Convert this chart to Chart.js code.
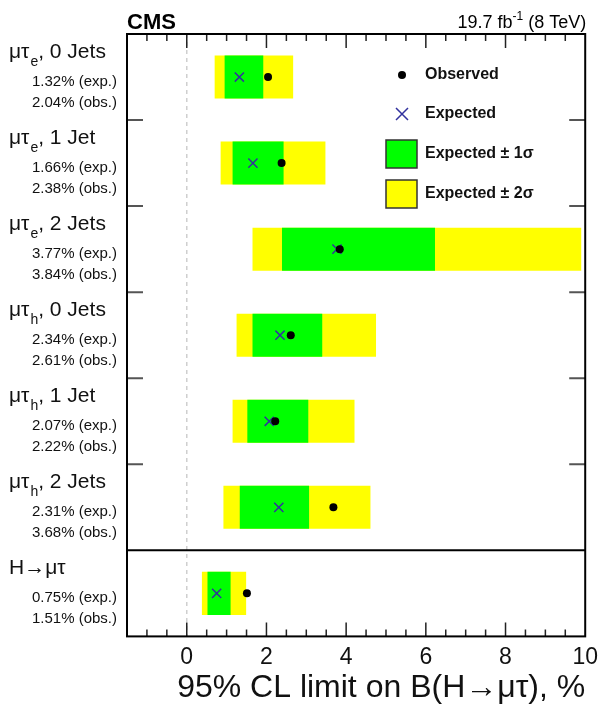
<!DOCTYPE html>
<html>
<head>
<meta charset="utf-8">
<script src="https://cdn.jsdelivr.net/npm/chart.js@4.4.1/dist/chart.umd.min.js"></script>
<style>
  html, body { margin: 0; padding: 0; background: #fff; }
  #wrap { width: 605px; height: 705px; }
</style>
</head>
<body>
<div id="wrap"><canvas id="limits" width="605" height="705"></canvas></div>
<script>
// Channel labels: main symbol, subscript, suffix
const chanMain = ['μτ', 'μτ', 'μτ', 'μτ', 'μτ', 'μτ', 'H→μτ'];
const chanSub = ['e', 'e', 'e', 'h', 'h', 'h', ''];
const chanTail = [', 0 Jets', ', 1 Jet', ', 2 Jets', ', 0 Jets', ', 1 Jet', ', 2 Jets', ''];

// 95% CL upper limits on B(H->mu tau), in %
const expected = [1.32, 1.66, 3.77, 2.34, 2.07, 2.31, 0.75];
const observed = [2.04, 2.38, 3.84, 2.61, 2.22, 3.68, 1.51];
const sigma1Lo = [0.95, 1.15, 2.39, 1.65, 1.52, 1.33, 0.52];
const sigma1Hi = [1.92, 2.43, 6.23, 3.40, 3.05, 3.07, 1.10];
const sigma2Lo = [0.70, 0.85, 1.65, 1.25, 1.15, 0.92, 0.38];
const sigma2Hi = [2.67, 3.48, 9.90, 4.75, 4.21, 4.61, 1.49];

const xMin = -1.5, xMax = 10;
const FONT = "'Liberation Sans', Arial, sans-serif";
const EXP_COLOR = '#32329e';
const rows = expected.map((_, i) => i);

// frame, inward ticks, row labels, legend, CMS header
const decorations = {
    id: 'decorations',
    beforeDatasetsDraw(chart) {
        const { ctx, chartArea: a, scales: { x } } = chart;
        const x0 = x.getPixelForValue(0);
        ctx.save();
        ctx.strokeStyle = '#cfcfcf';
        ctx.lineWidth = 1.5;
        ctx.setLineDash([4, 4]);
        ctx.beginPath();
        ctx.moveTo(x0, a.top);
        ctx.lineTo(x0, a.bottom);
        ctx.stroke();
        ctx.restore();
    },
    afterDatasetsDraw(chart) {
        const { ctx, chartArea: a, scales: { x, y } } = chart;
        ctx.save();

        // x ticks top and bottom, pointing inward
        ctx.strokeStyle = '#222';
        ctx.lineWidth = 1.5;
        x.ticks.forEach(t => {
            const v = t.value;
            if (v <= xMin || v >= xMax) return;
            const px = x.getPixelForValue(v);
            const len = (v % 2 === 0) ? 14 : 7;
            ctx.beginPath();
            ctx.moveTo(px, a.top); ctx.lineTo(px, a.top + len);
            ctx.moveTo(px, a.bottom); ctx.lineTo(px, a.bottom - len);
            ctx.stroke();
        });

        // row boundary ticks left and right
        ctx.strokeStyle = '#555';
        ctx.lineWidth = 2;
        for (let k = 1; k < rows.length - 1; k++) {
            const py = y.getPixelForValue(k);
            ctx.beginPath();
            ctx.moveTo(a.left, py); ctx.lineTo(a.left + 16, py);
            ctx.moveTo(a.right, py); ctx.lineTo(a.right - 16, py);
            ctx.stroke();
        }

        // separator before combined result
        ctx.strokeStyle = '#000';
        ctx.lineWidth = 2;
        const sep = y.getPixelForValue(rows.length - 1);
        ctx.beginPath();
        ctx.moveTo(a.left, sep); ctx.lineTo(a.right, sep);
        ctx.stroke();

        // frame
        ctx.strokeRect(a.left, a.top, a.right - a.left, a.bottom - a.top);

        // row labels
        ctx.fillStyle = '#111';
        ctx.textBaseline = 'middle';
        rows.forEach(i => {
            const top = y.getPixelForValue(i);
            let tx = 9;
            const ty = top + 18;
            ctx.textAlign = 'left';
            ctx.font = '21px ' + FONT;
            ctx.fillText(chanMain[i], tx, ty);
            tx += ctx.measureText(chanMain[i]).width;
            if (chanSub[i]) {
                ctx.font = '14px ' + FONT;
                ctx.fillText(chanSub[i], tx + 1, ty + 10);
                tx += ctx.measureText(chanSub[i]).width + 1;
            }
            if (chanTail[i]) {
                ctx.font = '21px ' + FONT;
                ctx.fillText(chanTail[i], tx, ty);
            }
            ctx.textAlign = 'right';
            ctx.font = '15px ' + FONT;
            ctx.fillText(expected[i].toFixed(2) + '% (exp.)', 117, top + 48);
            ctx.fillText(observed[i].toFixed(2) + '% (obs.)', 117, top + 69);
        });

        // legend
        ctx.textAlign = 'left';
        ctx.font = 'bold 16px ' + FONT;
        ctx.fillStyle = '#000';
        ctx.beginPath();
        ctx.arc(402, 75, 4, 0, Math.PI * 2);
        ctx.fill();
        ctx.fillStyle = '#111';
        ctx.fillText('Observed', 425, 75);

        ctx.strokeStyle = EXP_COLOR;
        ctx.lineWidth = 1.5;
        ctx.beginPath();
        ctx.moveTo(396, 108); ctx.lineTo(408, 120);
        ctx.moveTo(408, 108); ctx.lineTo(396, 120);
        ctx.stroke();
        ctx.fillText('Expected', 425, 114);

        ctx.strokeStyle = '#333';
        ctx.lineWidth = 1.5;
        ctx.fillStyle = '#00ff00';
        ctx.fillRect(386, 140, 31, 28);
        ctx.strokeRect(386, 140, 31, 28);
        ctx.fillStyle = '#ffff00';
        ctx.fillRect(386, 180, 31, 28);
        ctx.strokeRect(386, 180, 31, 28);
        ctx.fillStyle = '#111';
        ctx.fillText('Expected ± 1σ', 425, 154);
        ctx.fillText('Expected ± 2σ', 425, 194);

        // header
        ctx.textBaseline = 'alphabetic';
        ctx.font = 'bold 22px ' + FONT;
        ctx.fillStyle = '#000';
        ctx.fillText('CMS', a.left, 29);
        ctx.textAlign = 'right';
        ctx.font = '18px ' + FONT;
        const right = a.right + 1;
        const tail = ' (8 TeV)';
        ctx.fillText(tail, right, 28);
        let wx = right - ctx.measureText(tail).width;
        ctx.font = '12px ' + FONT;
        ctx.fillText('-1', wx, 20);
        wx -= ctx.measureText('-1').width;
        ctx.font = '18px ' + FONT;
        ctx.fillText('19.7 fb', wx, 28);

        ctx.restore();
    }
};

const ctx = document.getElementById('limits').getContext('2d');
new Chart(ctx, {
    type: 'bar',
    data: {
        datasets: [
            {
                type: 'scatter',
                label: 'Observed',
                data: rows.map(i => ({ x: observed[i], y: i + 0.5 })),
                pointStyle: 'circle',
                radius: 4,
                backgroundColor: '#000',
                borderColor: '#000',
                borderWidth: 0,
                order: 0
            },
            {
                type: 'scatter',
                label: 'Expected',
                data: rows.map(i => ({ x: expected[i], y: i + 0.5 })),
                pointStyle: 'crossRot',
                radius: 6.5,
                borderColor: EXP_COLOR,
                borderWidth: 1.5,
                order: 1
            },
            {
                label: 'Expected ± 1σ',
                data: rows.map(i => ({ x: [sigma1Lo[i], sigma1Hi[i]], y: i + 0.5 })),
                backgroundColor: '#00ff00',
                borderWidth: 0,
                grouped: false,
                barPercentage: 0.5,
                categoryPercentage: 1,
                order: 2
            },
            {
                label: 'Expected ± 2σ',
                data: rows.map(i => ({ x: [sigma2Lo[i], sigma2Hi[i]], y: i + 0.5 })),
                backgroundColor: '#ffff00',
                borderWidth: 0,
                grouped: false,
                barPercentage: 0.5,
                categoryPercentage: 1,
                order: 3
            }
        ]
    },
    options: {
        indexAxis: 'y',
        responsive: false,
        animation: false,
        devicePixelRatio: 1,
        layout: { padding: { left: 127, right: 17, top: 34, bottom: 1 } },
        plugins: {
            legend: { display: false },
            tooltip: { enabled: false }
        },
        scales: {
            x: {
                type: 'linear',
                position: 'bottom',
                min: xMin,
                max: xMax,
                grid: { display: false, drawTicks: false },
                border: { display: false },
                ticks: {
                    stepSize: 0.5,
                    autoSkip: false,
                    maxRotation: 0,
                    padding: 7,
                    color: '#111',
                    font: { family: FONT, size: 23, lineHeight: 1.2 },
                    callback: v => (v >= 0 && v % 2 === 0) ? String(v) : ''
                },
                title: {
                    display: true,
                    text: '95% CL limit on B(H→μτ), %',
                    align: 'end',
                    color: '#111',
                    font: { family: FONT, size: 32, lineHeight: 1 },
                    padding: { top: -6, bottom: 0 }
                }
            },
            y: {
                type: 'linear',
                display: false,
                reverse: true,
                offset: false,
                min: 0,
                max: rows.length,
                ticks: { stepSize: 1 }
            }
        }
    },
    plugins: [decorations]
});
</script>
</body>
</html>
